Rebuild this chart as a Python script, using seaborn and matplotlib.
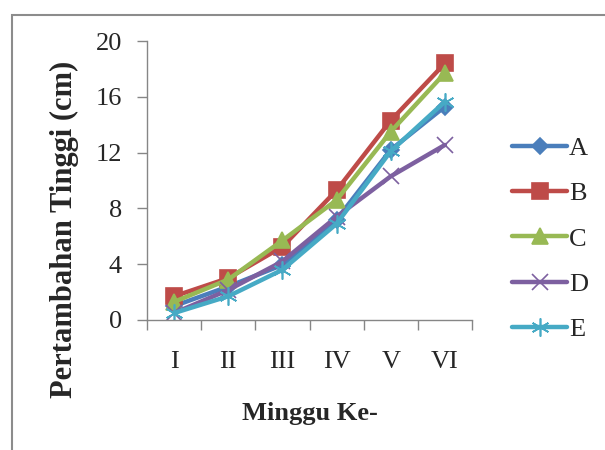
import matplotlib
matplotlib.use("Agg")
import matplotlib.pyplot as plt
import seaborn as sns
import pandas as pd
from matplotlib.patches import Rectangle

weeks = ["I", "II", "III", "IV", "V", "VI"]
A = [1.0, 2.4, 3.95, 7.2, 12.2, 15.3]
B = [1.7, 3.0, 5.25, 9.3, 14.3, 18.4]
C = [1.3, 2.9, 5.7, 8.6, 13.5, 17.7]
D = [0.5, 2.15, 4.2, 7.4, 10.3, 12.55]
E = [0.5, 1.7, 3.6, 6.9, 12.1, 15.65]
series = {"A": A, "B": B, "C": C, "D": D, "E": E}
colors = {"A": "#4A7EBB", "B": "#BE4B48", "C": "#98B954", "D": "#7D60A0", "E": "#46AAC5"}
markers = {"A": "D", "B": "s", "C": "^", "D": "x", "E": (6, 2, 0)}
msizes = {"A": 8, "B": 11, "C": 11, "D": 11, "E": 13}

rows = []
for name, vals in series.items():
    for i, v in enumerate(vals):
        rows.append({"pos": i, "week": weeks[i], "val": v, "grp": name})
df = pd.DataFrame(rows)

sns.set_style("white")
plt.rcParams["font.family"] = ["Liberation Serif", "DejaVu Serif"]

fig = plt.figure(figsize=(6.05, 4.5), dpi=100)
ax = fig.add_axes([147 / 605, 1 - 320 / 450, (472 - 147) / 605, (320 - 41) / 450])

for name in series:
    sub = df[df.grp == name]
    sns.lineplot(data=sub, x="pos", y="val", ax=ax, color=colors[name], linewidth=3.2,
                 marker=markers[name], markersize=msizes[name], markeredgecolor=colors[name],
                 markeredgewidth=1.2, label=name, legend=False)

ax.set_xlim(-0.5, 5.5)
ax.set_ylim(0, 20)
ax.set_yticks([0, 4, 8, 12, 16, 20])
ax.set_xticks([i - 0.5 for i in range(7)])
ax.set_xticklabels([])
ax.set_xticks(range(6), minor=True)
ax.set_xticklabels(weeks, minor=True, fontsize=19)
ax.tick_params(axis="x", which="major", bottom=True, length=7, width=1, color="#868686", direction="out")
ax.tick_params(axis="x", which="minor", bottom=False, length=0, pad=22)
ax.tick_params(axis="y", left=True, length=7, width=1, color="#868686", direction="out", labelsize=19, pad=11)
for s in ["top", "right"]:
    ax.spines[s].set_visible(False)
for s in ["left", "bottom"]:
    ax.spines[s].set_color("#868686")
    ax.spines[s].set_linewidth(1)
ax.set_xlabel("Minggu Ke-", fontsize=19, fontweight="bold", labelpad=21)
ax.set_ylabel("Pertambahan Tinggi (cm)", fontsize=22, fontweight="bold", va="center")
ax.yaxis.set_label_coords((64 - 147) / 325, (320 - 229) / 279)

handles, labels = ax.get_legend_handles_labels()
fig.legend(handles, labels, loc="center left", bbox_to_anchor=(512 / 605, 1 - 239 / 450),
           frameon=False, fontsize=19, handlelength=2.1, labelspacing=0.83,
           handletextpad=0.05, borderaxespad=0, borderpad=0)

fig.patches.append(Rectangle((12 / 605, -0.1), 1.2, 1 - 15 / 450 + 0.1, transform=fig.transFigure,
                             fill=False, edgecolor="#8c8c8c", linewidth=1.5))

fig.savefig("out.png", dpi=100)
